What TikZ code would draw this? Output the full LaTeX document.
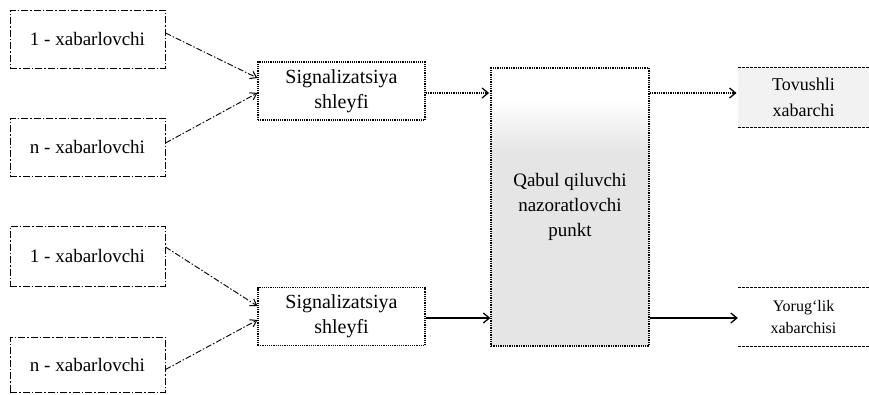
\documentclass[tikz,border=0pt]{standalone}
\usepackage{fontspec}
\setmainfont{Liberation Serif}
\usetikzlibrary{arrows.meta,positioning}
\begin{document}
\begin{tikzpicture}[x=1pt,y=-1pt,
  srcbox/.style={draw=black, line width=1pt, dash pattern=on 7pt off 2pt on 1.5pt off 2pt, minimum width=155pt, font=\fontsize{19}{25}\selectfont, inner sep=0pt},
  sigbox/.style={draw=black, line width=1.2pt, densely dotted, minimum width=167pt, minimum height=58pt, font=\fontsize{20}{25}\selectfont, align=center, inner sep=0pt},
  outbox/.style={minimum width=131pt, align=center, inner sep=0pt},
  inarrow/.style={draw=black, line width=0.9pt, dash pattern=on 6pt off 2pt on 1.5pt off 2pt, -{Straight Barb[length=6pt,width=8pt,line width=1pt]}},
  dotarrow/.style={draw=black, line width=1.3pt, densely dotted, -{Straight Barb[length=6pt,width=10pt,line width=1.3pt,sep]}},
  solarrow/.style={draw=black, line width=1.3pt, -{Straight Barb[length=6pt,width=10pt]}},
  edgeline/.style={draw=black, line width=1.1pt, dash pattern=on 3pt off 1pt},
]
\useasboundingbox (0,0) rectangle (869,394);

% source boxes
\node[srcbox, minimum height=58pt] (a1) at (87.5,39) {1 - xabarlovchi};
\node[srcbox, minimum height=58pt] (an) at (87.5,147) {n - xabarlovchi};
\node[srcbox, minimum height=60pt] (b1) at (87.5,256) {1 - xabarlovchi};
\node[srcbox, minimum height=55pt] (bn) at (87.5,364.5) {n - xabarlovchi};

% signalization loops
\node[sigbox] (s1) at (341.5,91) {Signalizatsiya\\shleyfi};
\node[sigbox] (s2) at (341.5,316.5) {Signalizatsiya\\shleyfi};

% central control panel
\fill[gray!20] (491,150) rectangle (649,346);
\shade[top color=white, bottom color=gray!20] (491,100) rectangle (649,150.5);
\node[draw=black, line width=1.3pt, densely dotted, minimum width=158pt, minimum height=278pt, align=center, inner sep=0pt, font=\fontsize{19}{25}\selectfont] (c) at (570,207) {Qabul qiluvchi\\nazoratlovchi\\punkt};

% output devices
\fill[gray!10] (738,68) rectangle (869,127);
\node[outbox, minimum height=59pt, font=\fontsize{18}{26}\selectfont] (t) at (803.5,97.5) {Tovushli\\xabarchi};
\node[outbox, minimum height=58pt, font=\fontsize{16}{22}\selectfont] (yb) at (803.5,317) {Yorug‘lik\\xabarchisi};
\draw[edgeline] (t.north west) -- (t.north east);
\draw[edgeline] (t.south west) -- (t.south east);
\draw[edgeline] (yb.north west) -- (yb.north east);
\draw[edgeline] (yb.south west) -- (yb.south east);

% connectors from sources
\draw[inarrow] ([yshift=6pt]a1.east) -- ([yshift=13pt]s1.west);
\draw[inarrow] ([yshift=4pt]an.east) -- ([yshift=-2pt]s1.west);
\draw[inarrow] ([yshift=9pt]b1.east) -- ([yshift=10.5pt]s2.west);
\draw[inarrow] ([yshift=-5pt]bn.east) -- ([yshift=-3.5pt]s2.west);

% connectors to and from the panel
\coordinate (u1) at ([yshift=-2pt]s1.east);
\coordinate (l1) at ([yshift=-1.5pt]s2.east);
\draw[dotarrow] (u1) -- (u1 -| c.west);
\draw[solarrow] (l1) -- (l1 -| c.west);
\draw[dotarrow] (u1 -| c.east) -- (u1 -| t.west);
\draw[solarrow] (l1 -| c.east) -- (l1 -| yb.west);
\end{tikzpicture}
\end{document}
